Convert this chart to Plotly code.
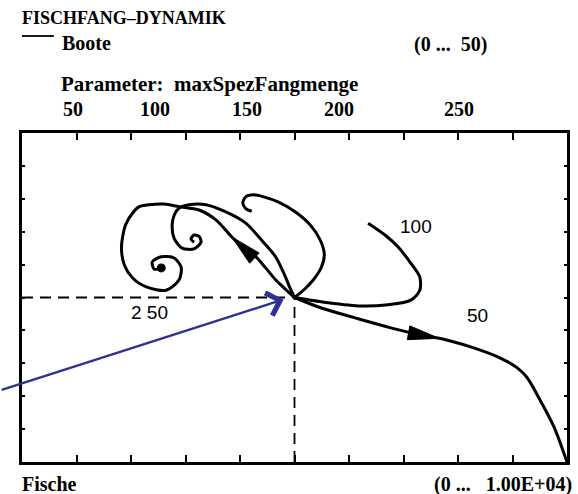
import math
import plotly.graph_objects as go

# ---- data: phase-space trajectories (Fische, Boote), one per maxSpezFangmenge ----
PARAM_VALUES = [50, 100, 150, 200, 250]

START_FISH = 5000
START_BOATS = 25.0

fish_50 = [5000, 5493, 6113, 6715, 7318, 7650, 7810, 8303, 8777, 9088, 9270, 9507, 9763, 10000]
boats_50 = [25.0, 23.4, 21.9, 20.5, 19.3, 18.8, 18.5, 17.3, 15.8, 14.3, 12.8, 9.4, 5.3, 0.0]

fish_100 = [5000, 5620, 6223, 6715, 7135, 7299, 7299, 7135, 6898, 6661, 6350]
boats_100 = [25.0, 24.2, 23.7, 23.9, 24.6, 26.1, 28.1, 30.2, 32.7, 34.5, 36.3]

fish_150 = [5000, 5164, 5347, 5493, 5547, 5474, 5292, 5018, 4708, 4434, 4252, 4106, 4051, 4106, 4215]
boats_150 = [25.0, 26.1, 27.7, 29.6, 31.5, 33.7, 36.0, 38.0, 39.5, 40.3, 40.6, 40.3, 39.4, 38.5, 38.1]

fish_200 = [5000, 4909, 4836, 4653, 4398, 4106, 3741, 3376, 3066, 2883, 2792, 2755,
            2792, 2938, 3157, 3285, 3248, 3157, 3102, 3157]
boats_200 = [25.0, 26.6, 28.1, 31.2, 33.7, 36.3, 38.0, 39.1, 39.1, 38.6, 37.5, 36.0,
             34.0, 32.5, 32.4, 33.4, 34.3, 34.5, 33.9, 33.4]

fish_250 = [5000, 4817, 4653, 4471, 4288, 4069, 3850, 3558, 3248, 2883, 2609, 2336, 2153,
            2026, 1898, 1825, 1880, 2026, 2281, 2646, 2883, 2920, 2792, 2555, 2390, 2427, 2555]
boats_250 = [25.0, 26.4, 27.7, 29.5, 31.2, 32.5, 34.2, 36.8, 38.3, 38.8, 39.2, 39.1, 38.8,
             37.8, 36.0, 32.7, 29.9, 28.0, 26.6, 26.1, 27.7, 29.6, 31.0, 31.2, 30.4, 29.3, 29.5]

# pointer drawn onto the start state from outside the frame
POINTER_FROM = (-400, 10.9)
POINTER_TO = (4800, 24.7)

X_RANGE = [0, 10000]
Y_RANGE = [0, 50]

# ---- layout geometry ----
W, H = 578, 494
ML, MR, MT, MB = 22, 8, 133, 32
PW, PH = W - ML - MR, H - MT - MB

SERIF = "Liberation Serif"
SANS = "Liberation Sans"
NB = "\u00a0"


def paper(px, py):
    """page pixel -> paper coordinates"""
    return (px - ML) / PW, (H - MB - py) / PH


def arrow_head(xs, ys, i, length=31, half_w=7):
    """filled triangle with its tip on point i of a trajectory"""
    sx = PW / (X_RANGE[1] - X_RANGE[0])
    sy = PH / (Y_RANGE[1] - Y_RANGE[0])
    dx = (xs[i] - xs[i - 1]) * sx
    dy = (ys[i] - ys[i - 1]) * sy
    n = math.hypot(dx, dy)
    ux, uy = dx / n, dy / n
    bx, by = xs[i] * sx - ux * length, ys[i] * sy - uy * length
    px_, py_ = -uy, ux
    pts = [(xs[i] * sx, ys[i] * sy),
           (bx + px_ * half_w, by + py_ * half_w),
           (bx - px_ * half_w, by - py_ * half_w),
           (xs[i] * sx, ys[i] * sy)]
    return [p[0] / sx for p in pts], [p[1] / sy for p in pts]


fig = go.Figure()

line_style = dict(color="black", width=3, shape="spline", smoothing=0.8)
for xs, ys in [(fish_50, boats_50), (fish_100, boats_100), (fish_150, boats_150),
               (fish_200, boats_200), (fish_250, boats_250)]:
    fig.add_trace(go.Scatter(x=xs, y=ys, mode="lines", line=line_style,
                             hoverinfo="skip", showlegend=False))

# direction arrows on the 50 and 250 trajectories
for xs, ys, i in [(fish_50, boats_50, 5), (fish_250, boats_250, 6)]:
    ax_, ay_ = arrow_head(xs, ys, i)
    fig.add_trace(go.Scatter(x=ax_, y=ay_, mode="lines", fill="toself",
                             fillcolor="black", line=dict(color="black", width=1),
                             hoverinfo="skip", showlegend=False))

# end state of the 250 spiral
fig.add_trace(go.Scatter(x=[fish_250[-1]], y=[boats_250[-1]], mode="markers",
                         marker=dict(color="black", size=9),
                         hoverinfo="skip", showlegend=False))

# dashed guides to the start state
dash = dict(color="black", width=1.8, dash="11px,7px")
fig.add_shape(type="line", x0=X_RANGE[0], y0=START_BOATS, x1=START_FISH, y1=START_BOATS,
              xref="x", yref="y", line=dash, layer="below")
fig.add_shape(type="line", x0=START_FISH, y0=Y_RANGE[0], x1=START_FISH, y1=START_BOATS,
              xref="x", yref="y", line=dash, layer="below")

annotations = []

# blue pointer
annotations.append(dict(x=POINTER_TO[0], y=POINTER_TO[1], ax=POINTER_FROM[0], ay=POINTER_FROM[1],
                        xref="x", yref="y", axref="x", ayref="y", text="", showarrow=True,
                        arrowhead=4, arrowsize=2.0, arrowwidth=2.3, arrowcolor="#2e3192"))


def text(s, px, py, size=21, font=SERIF, anchor="left", weight="bold"):
    xp, yp = paper(px, py)
    annotations.append(dict(x=xp, y=yp, xref="paper", yref="paper", text=s, showarrow=False,
                            xanchor=anchor, yanchor="middle",
                            font=dict(family=font, size=size, color="black", weight=weight)))


text("FISCHFANG\u2013DYNAMIK", 20, 18, size=18)
text("Boote", 60, 43, size=20)
text(f"(0{NB}...{NB}{NB}50)", 414, 45, size=20)
text(f"Parameter:{NB}{NB}maxSpezFangmenge", 59, 84, size=21)
for v, px in zip(PARAM_VALUES, [73, 156, 248, 341, 461]):
    text(str(v), px, 109, size=20, anchor="center")
text("Fische", 20, 484, size=20)
text(f"(0{NB}...{NB}{NB}{NB}1.00E+04)", 577, 484, size=20, anchor="right")

# trajectory labels
text(str(PARAM_VALUES[1]), 418, 226, size=19, font=SANS, anchor="center", weight="normal")
text(str(PARAM_VALUES[0]), 480, 315, size=19, font=SANS, anchor="center", weight="normal")
text(f"2{NB}50", 150, 312, size=19, font=SANS, anchor="center", weight="normal")

# short legend stroke before "Boote"
x0, y0 = paper(22, 36)
x1, _ = paper(54, 36)
fig.add_shape(type="line", x0=x0, x1=x1, y0=y0, y1=y0, xref="paper", yref="paper",
              line=dict(color="black", width=1.8))

axis_common = dict(showline=True, linecolor="black", linewidth=3, mirror="ticks",
                   ticks="inside", tickcolor="black", showticklabels=False,
                   showgrid=False, zeroline=False, fixedrange=True)

fig.update_layout(
    width=W, height=H,
    margin=dict(l=ML, r=MR, t=MT, b=MB, pad=0),
    paper_bgcolor="white", plot_bgcolor="white",
    xaxis=dict(range=X_RANGE, dtick=1000, ticklen=7, tickwidth=2, **axis_common),
    yaxis=dict(range=Y_RANGE, dtick=5, ticklen=3, tickwidth=2, **axis_common),
    annotations=annotations,
    showlegend=False,
)

fig.write_html("out.html", config={"displayModeBar": False})
